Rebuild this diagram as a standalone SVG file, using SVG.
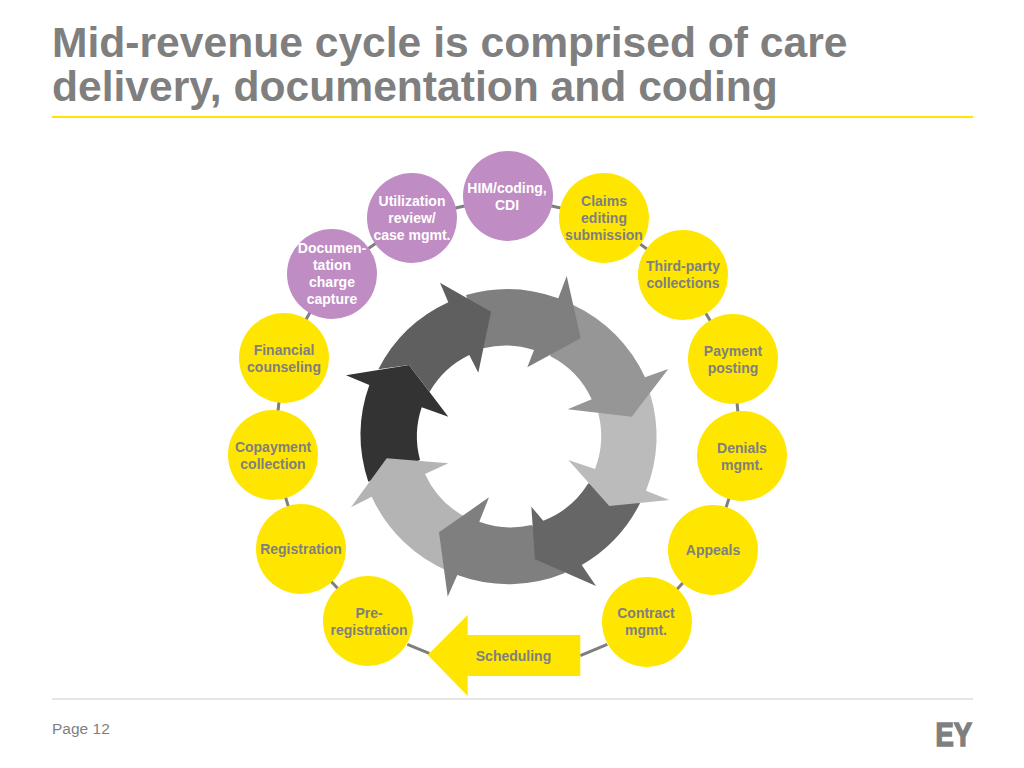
<svg xmlns="http://www.w3.org/2000/svg" width="1024" height="768" viewBox="0 0 1024 768">
<style>
text{font-family:"Liberation Sans",Arial,sans-serif}
.title{font-size:42.6px;font-weight:700;fill:#7f7f7f}
.lbl{font-size:14px;font-weight:700;text-anchor:middle}
.y circle,.y polygon{fill:#ffe600}
.y text{fill:#7f7f7f}
.p circle{fill:#c08cc4}
.p text{fill:#fff}
#connectors line{stroke:#7f7f7f;stroke-width:3}
</style>
<rect width="1024" height="768" fill="#fff"/>
<text class="title" x="52" y="57">Mid-revenue cycle is comprised of care</text>
<text class="title" x="52" y="101">delivery, documentation and coding</text>
<rect x="52" y="116" width="921" height="2" fill="#ffe600"/>
<g id="cycle">
<path fill="#333333" d="M368.3 481.7A148 148 0 0 1 369.3 385L346 375.3L409 365L448.3 416.7L421.7 407.3A91.3 91.3 0 0 0 420 460Z"/>
<path fill="#b4b4b4" d="M450 572A148 148 0 0 1 371.7 496.7L351 507.3L386.7 458.3L448.3 463.3L425 474A91.3 91.3 0 0 0 465 516.7Z"/>
<path fill="#7f7f7f" d="M565 573A148 148 0 0 1 457.3 575L447.7 596.7L439 532.3L489 497.3L479.3 521.7A91.3 91.3 0 0 0 531.7 525Z"/>
<path fill="#666666" d="M640 503.3A148 148 0 0 1 581.7 565L596 586L535 559.3L531.3 506.7L543.3 520.7A91.3 91.3 0 0 0 588.3 483.3Z"/>
<path fill="#bbbbbb" d="M650 393.3A148 148 0 0 1 646 490.7L669.3 500L609.3 506L568.3 460L595 469A91.3 91.3 0 0 0 598.3 413.3Z"/>
<path fill="#969696" d="M573.3 305A148 148 0 0 1 645 377.3L668.3 369L631.7 416.7L567.7 409.3L591.7 399.3A91.3 91.3 0 0 0 550 356Z"/>
<path fill="#7f7f7f" d="M466 295A148 148 0 0 1 558.3 298.3L566.7 276L580.7 338.3L527.3 367.3L534 350A91.3 91.3 0 0 0 483.3 348.3Z"/>
<path fill="#5f5f5f" d="M378.3 369.3A148 148 0 0 1 448.3 302.3L440 282.7L491 311.7L478.3 372.7L469.3 355A91.3 91.3 0 0 0 429.5 392L409 365Z"/>
</g>
<g id="connectors">
<line x1="508" y1="196" x2="604" y2="218"/>
<line x1="604" y1="218" x2="683" y2="275"/>
<line x1="683" y1="275" x2="733" y2="359"/>
<line x1="733" y1="359" x2="742" y2="456"/>
<line x1="742" y1="456" x2="713" y2="550"/>
<line x1="713" y1="550" x2="647" y2="622"/>
<line x1="580.3" y1="655.7" x2="607.3" y2="644.3"/>
<line x1="407.3" y1="644.3" x2="429.3" y2="653.3"/>
<line x1="368" y1="621" x2="301" y2="549"/>
<line x1="301" y1="549" x2="273" y2="455"/>
<line x1="273" y1="455" x2="284" y2="358"/>
<line x1="284" y1="358" x2="332" y2="274"/>
<line x1="332" y1="274" x2="412" y2="218"/>
<line x1="412" y1="218" x2="508" y2="196"/>
</g>
<g id="him" class="p"><circle cx="508" cy="196" r="45"/><text class="lbl" x="507" y="193">HIM/coding,</text><text class="lbl" x="507" y="210">CDI</text></g>
<g id="claims" class="y"><circle cx="604" cy="218" r="45"/><text class="lbl" x="604" y="206">Claims</text><text class="lbl" x="604" y="223">editing</text><text class="lbl" x="604" y="240">submission</text></g>
<g id="third-party" class="y"><circle cx="683" cy="275" r="45"/><text class="lbl" x="683" y="271">Third-party</text><text class="lbl" x="683" y="288">collections</text></g>
<g id="payment" class="y"><circle cx="733" cy="359" r="45"/><text class="lbl" x="733" y="356">Payment</text><text class="lbl" x="733" y="373">posting</text></g>
<g id="denials" class="y"><circle cx="742" cy="456" r="45"/><text class="lbl" x="742" y="453">Denials</text><text class="lbl" x="742" y="470">mgmt.</text></g>
<g id="appeals" class="y"><circle cx="713" cy="550" r="45"/><text class="lbl" x="713" y="555">Appeals</text></g>
<g id="contract" class="y"><circle cx="647" cy="622" r="45"/><text class="lbl" x="646" y="618">Contract</text><text class="lbl" x="646" y="635">mgmt.</text></g>
<g id="scheduling" class="y"><polygon points="427.7,655 467.7,615 467.7,635 580.3,635 580.3,676 467.7,676 467.7,696"/><text class="lbl" x="513.5" y="661">Scheduling</text></g>
<g id="pre-registration" class="y"><circle cx="368" cy="621" r="45"/><text class="lbl" x="369" y="618">Pre-</text><text class="lbl" x="369" y="635">registration</text></g>
<g id="registration" class="y"><circle cx="301" cy="549" r="45"/><text class="lbl" x="301" y="554">Registration</text></g>
<g id="copayment" class="y"><circle cx="273" cy="455" r="45"/><text class="lbl" x="273" y="452">Copayment</text><text class="lbl" x="273" y="469">collection</text></g>
<g id="financial" class="y"><circle cx="284" cy="358" r="45"/><text class="lbl" x="284" y="355">Financial</text><text class="lbl" x="284" y="372">counseling</text></g>
<g id="documentation" class="p"><circle cx="332" cy="274" r="45"/><text class="lbl" x="332" y="253">Documen-</text><text class="lbl" x="332" y="270">tation</text><text class="lbl" x="332" y="287">charge</text><text class="lbl" x="332" y="304">capture</text></g>
<g id="utilization" class="p"><circle cx="412" cy="218" r="45"/><text class="lbl" x="412" y="206">Utilization</text><text class="lbl" x="412" y="223">review/</text><text class="lbl" x="412" y="240">case mgmt.</text></g>
<rect x="52" y="698" width="921" height="2" fill="#e6e6e6"/>
<text x="52" y="734" font-size="15.5" fill="#7f7f7f">Page 12</text>
<text x="935.5" y="745.5" font-size="33" font-weight="700" fill="#7f7f7f" stroke="#7f7f7f" stroke-width="1.5" textLength="36.5" lengthAdjust="spacingAndGlyphs">EY</text>
</svg>
